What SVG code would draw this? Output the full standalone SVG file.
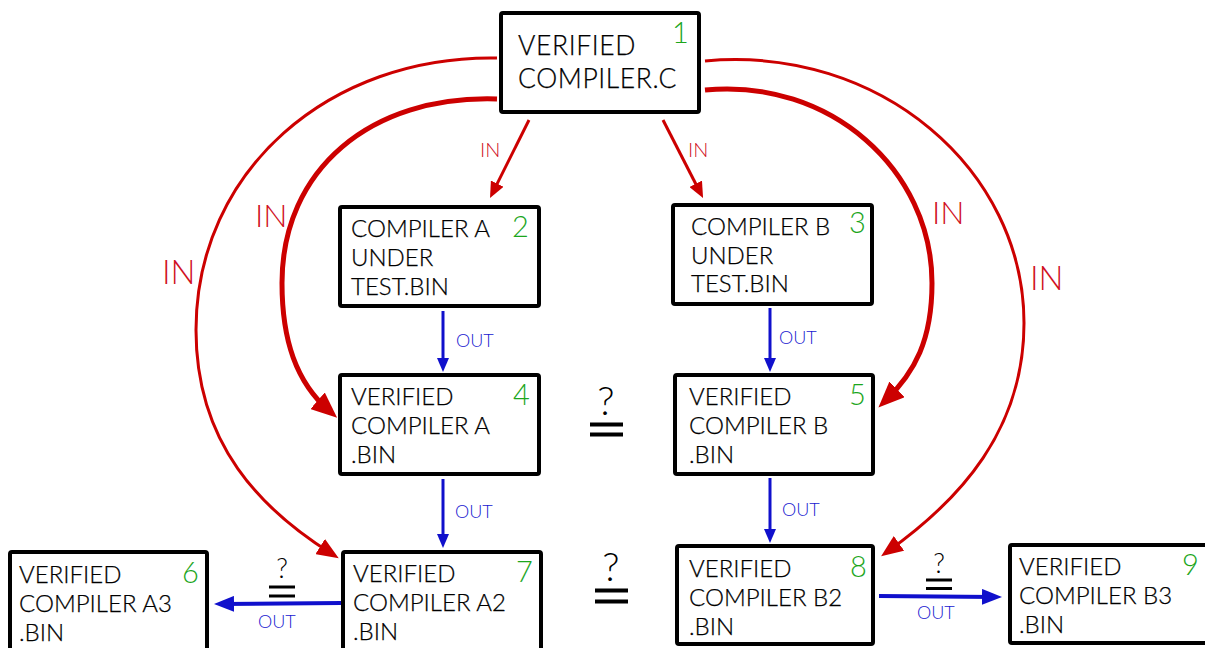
<svg xmlns="http://www.w3.org/2000/svg" width="1205" height="648" viewBox="0 0 1205 648">
<style>
.box{fill:#fff;stroke:#000;stroke-width:4;}
.t{font-family:Lato,"Open Sans","Liberation Sans",sans-serif;font-weight:300;font-size:24px;fill:#000;stroke:#000;stroke-width:0.25px;}
.t1{font-size:26.5px;letter-spacing:0.6px;}
.n{font-family:Lato,"Open Sans","Liberation Sans",sans-serif;font-weight:300;font-size:29px;fill:#1ca61c;}
.in{font-family:Lato,"Open Sans","Liberation Sans",sans-serif;font-weight:300;fill:#d0101e;}
.out{font-family:Lato,"Open Sans","Liberation Sans",sans-serif;font-weight:300;font-size:18px;fill:#2020d0;}
.q{font-family:Lato,"Open Sans","Liberation Sans",sans-serif;font-weight:300;fill:#000;text-anchor:middle;}
.red{fill:none;stroke:#cc0000;}
.blue{fill:none;stroke:#1010cc;}
.bar{stroke:#000;}
</style>
<defs>
<marker id="rBig" markerUnits="userSpaceOnUse" markerWidth="26" markerHeight="22" refX="16" refY="11" orient="auto"><path d="M0,0 L26,11 L0,22 z" fill="#cc0000"/></marker>
<marker id="rMid" markerUnits="userSpaceOnUse" markerWidth="22" markerHeight="18" refX="14" refY="9" orient="auto"><path d="M0,0 L22,9 L0,18 z" fill="#cc0000"/></marker>
<marker id="rSm" markerUnits="userSpaceOnUse" markerWidth="16" markerHeight="14" refX="10" refY="7" orient="auto"><path d="M0,0 L16,7 L0,14 z" fill="#cc0000"/></marker>
<marker id="bSm" markerUnits="userSpaceOnUse" markerWidth="14" markerHeight="12" refX="9" refY="6" orient="auto"><path d="M0,0 L14,6 L0,12 z" fill="#1010cc"/></marker>
<marker id="bBig" markerUnits="userSpaceOnUse" markerWidth="20" markerHeight="16" refX="12" refY="8" orient="auto"><path d="M0,0 L20,8 L0,16 z" fill="#1010cc"/></marker>
</defs>

<g id="connectors">
<path class="red" stroke-width="3" d="M497,58 C330,55 196,170 196,330 C196,445 262,510 332,554" marker-end="url(#rMid)"/>
<path class="red" stroke-width="5" d="M497,99 C370,95 282,170 282,283 C282,340 296,382 329.6,411.3" marker-end="url(#rBig)"/>
<path class="red" stroke-width="5" d="M705,90 C830,78 932,170 932,283 C932,340 915,372 885.6,400.5" marker-end="url(#rBig)"/>
<path class="red" stroke-width="3" d="M705,61 C880,45 1024,170 1024,323 C1024,430 960,500 887.6,551.5" marker-end="url(#rMid)"/>
<path class="red" stroke-width="3" d="M529,120 L492.7,192.6" marker-end="url(#rSm)"/>
<path class="red" stroke-width="3" d="M663,120 L700.3,192.7" marker-end="url(#rSm)"/>
<path class="blue" stroke-width="3" d="M443,311 L443,367" marker-end="url(#bSm)"/>
<path class="blue" stroke-width="3" d="M770,308 L770,367" marker-end="url(#bSm)"/>
<path class="blue" stroke-width="3" d="M443,479 L443,543" marker-end="url(#bSm)"/>
<path class="blue" stroke-width="3" d="M770,478 L770,538" marker-end="url(#bSm)"/>
<path class="blue" stroke-width="4" d="M341,603 L222,604" marker-end="url(#bBig)"/>
<path class="blue" stroke-width="4" d="M879,596 L994,597" marker-end="url(#bBig)"/>
<text class="in" font-size="33" x="162" y="284">IN</text>
<text class="in" font-size="32" x="255" y="227">IN</text>
<text class="in" font-size="32" x="932" y="224">IN</text>
<text class="in" font-size="33" x="1030" y="290">IN</text>
<text class="in" font-size="20" x="480" y="157">IN</text>
<text class="in" font-size="20" x="688" y="157">IN</text>
<text class="out" x="456" y="347">OUT</text>
<text class="out" x="779" y="344">OUT</text>
<text class="out" x="455" y="518">OUT</text>
<text class="out" x="782" y="516">OUT</text>
<text class="out" font-size="20" x="258" y="628">OUT</text>
<text class="out" font-size="20" x="917" y="619">OUT</text>
</g>

<g id="eq45">
<text class="q" font-size="40" x="606" y="415">?</text>
<line class="bar" stroke-width="4" x1="590" y1="424.5" x2="623" y2="424.5"/>
<line class="bar" stroke-width="4" x1="590" y1="434.5" x2="623" y2="434.5"/>
</g>
<g id="eq78">
<text class="q" font-size="40" x="611" y="581">?</text>
<line class="bar" stroke-width="4" x1="595" y1="590.5" x2="628" y2="590.5"/>
<line class="bar" stroke-width="4" x1="595" y1="601.5" x2="628" y2="601.5"/>
</g>
<g id="eq76">
<text class="q" font-size="27" x="282" y="578">?</text>
<line class="bar" stroke-width="3" x1="269" y1="587" x2="295" y2="587"/>
<line class="bar" stroke-width="3" x1="269" y1="596" x2="295" y2="596"/>
</g>
<g id="eq89">
<text class="q" font-size="27" x="939" y="573">?</text>
<line class="bar" stroke-width="3" x1="926" y1="580" x2="952" y2="580"/>
<line class="bar" stroke-width="3" x1="926" y1="588.5" x2="952" y2="588.5"/>
</g>

<g id="node1">
<rect class="box" x="501" y="13" width="198" height="99" rx="2"/>
<text class="t t1" x="518" y="55">VERIFIED</text>
<text class="t t1" x="518" y="88">COMPILER.C</text>
<text class="n" x="672" y="43">1</text>
</g>
<g id="node2">
<rect class="box" x="340" y="207" width="199" height="99" rx="2"/>
<text class="t" x="351" y="237">COMPILER A</text>
<text class="t" x="351" y="266">UNDER</text>
<text class="t" x="351" y="295">TEST.BIN</text>
<text class="n" x="512" y="237">2</text>
</g>
<g id="node3">
<rect class="box" x="673" y="205" width="199" height="99" rx="2"/>
<text class="t" x="691" y="235">COMPILER B</text>
<text class="t" x="691" y="264">UNDER</text>
<text class="t" x="691" y="292">TEST.BIN</text>
<text class="n" x="849" y="233">3</text>
</g>
<g id="node4">
<rect class="box" x="340" y="375" width="199" height="99" rx="2"/>
<text class="t" x="351" y="405">VERIFIED</text>
<text class="t" x="351" y="434">COMPILER A</text>
<text class="t" x="351" y="463">.BIN</text>
<text class="n" x="513" y="405">4</text>
</g>
<g id="node5">
<rect class="box" x="675" y="375" width="198" height="99" rx="2"/>
<text class="t" x="689" y="405">VERIFIED</text>
<text class="t" x="689" y="434">COMPILER B</text>
<text class="t" x="689" y="463">.BIN</text>
<text class="n" x="849" y="405">5</text>
</g>
<g id="node6">
<rect class="box" x="10" y="552" width="197" height="100" rx="2"/>
<text class="t" x="19" y="583">VERIFIED</text>
<text class="t" x="19" y="612">COMPILER A3</text>
<text class="t" x="19" y="641">.BIN</text>
<text class="n" x="182" y="583">6</text>
</g>
<g id="node7">
<rect class="box" x="343" y="552" width="198" height="100" rx="2"/>
<text class="t" x="353" y="582">VERIFIED</text>
<text class="t" x="353" y="611">COMPILER A2</text>
<text class="t" x="353" y="640">.BIN</text>
<text class="n" x="516" y="582">7</text>
</g>
<g id="node8">
<rect class="box" x="677" y="546" width="196" height="98" rx="2"/>
<text class="t" x="689" y="577">VERIFIED</text>
<text class="t" x="689" y="606">COMPILER B2</text>
<text class="t" x="689" y="635">.BIN</text>
<text class="n" x="850" y="577">8</text>
</g>
<g id="node9">
<rect class="box" x="1010" y="545" width="200" height="98" rx="2"/>
<text class="t" x="1019" y="575">VERIFIED</text>
<text class="t" x="1019" y="604">COMPILER B3</text>
<text class="t" x="1019" y="633">.BIN</text>
<text class="n" x="1182" y="575">9</text>
</g>
</svg>
